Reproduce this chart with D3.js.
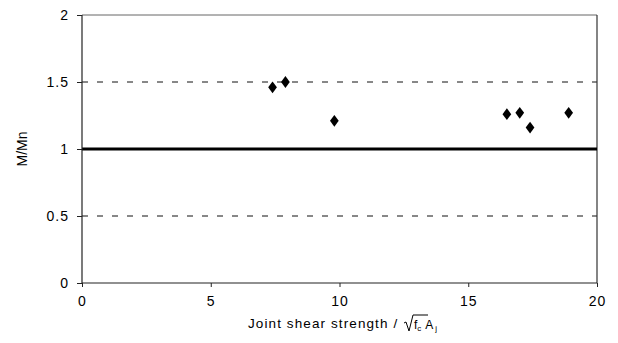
<!DOCTYPE html>
<html>
<head>
<meta charset="utf-8">
<script src="https://cdn.jsdelivr.net/npm/d3@7"></script>
<style>
  body { margin: 0; background: #fff; }
  text { font-family: "Liberation Sans", Arial, sans-serif; fill: #000; }
</style>
</head>
<body>
<div id="chart"></div>
<script>
// joint shear strength (x) vs M/Mn (y)
var shear = [7.4, 7.9, 9.8, 16.5, 17.0, 17.4, 18.9];
var ratio = [1.46, 1.50, 1.21, 1.26, 1.27, 1.16, 1.27];
var xTicks = [0, 5, 10, 15, 20];
var yTicks = [0, 0.5, 1, 1.5, 2];
var dashedLevels = [0.5, 1.5];

var W = 618, H = 343;
var margin = { top: 15, right: 21, bottom: 60, left: 82 };

var svg = d3.select("#chart").append("svg")
    .attr("width", W)
    .attr("height", H);

var x = d3.scaleLinear().domain([0, 20]).range([margin.left, W - margin.right]);
var y = d3.scaleLinear().domain([0, 2]).range([H - margin.bottom, margin.top]);

// dashed reference lines
svg.selectAll("line.dash")
    .data(dashedLevels)
    .enter().append("line")
    .attr("class", "dash")
    .attr("x1", x(0)).attr("x2", x(20))
    .attr("y1", function (d) { return y(d); })
    .attr("y2", function (d) { return y(d); })
    .attr("stroke", "#111")
    .attr("stroke-width", 1)
    .attr("stroke-dasharray", "6,9");

// top border
svg.append("line")
    .attr("x1", x(0)).attr("x2", x(20))
    .attr("y1", y(2)).attr("y2", y(2))
    .attr("stroke", "#666")
    .attr("stroke-width", 1);

// right border
svg.append("line")
    .attr("x1", x(20)).attr("x2", x(20))
    .attr("y1", y(2)).attr("y2", y(0))
    .attr("stroke", "#333")
    .attr("stroke-width", 1.2);

// M/Mn = 1 line
svg.append("line")
    .attr("x1", x(0)).attr("x2", x(20))
    .attr("y1", y(1)).attr("y2", y(1))
    .attr("stroke", "#000")
    .attr("stroke-width", 3);

// axes
var xAxis = svg.append("g")
    .attr("transform", "translate(0," + y(0) + ")")
    .call(d3.axisBottom(x).tickValues(xTicks).tickSize(4).tickPadding(9).tickFormat(d3.format("d")));
var yAxis = svg.append("g")
    .attr("transform", "translate(" + x(0) + ",0)")
    .call(d3.axisLeft(y).tickValues(yTicks).tickSize(5).tickPadding(8).tickFormat(function (d) { return d; }));

[xAxis, yAxis].forEach(function (g) {
    g.select(".domain").attr("stroke", "#222").attr("stroke-width", 1.2);
    g.selectAll(".tick line").attr("stroke", "#222");
    g.selectAll(".tick text")
        .attr("font-size", 14)
        .attr("letter-spacing", 1)
        .attr("font-family", "Liberation Sans, Arial, sans-serif");
});
xAxis.select(".domain").attr("d", "M" + x(0) + ",0H" + x(20));
yAxis.select(".domain").attr("d", "M0," + y(0) + "V" + y(2));

// points
svg.selectAll("path.pt")
    .data(shear)
    .enter().append("path")
    .attr("class", "pt")
    .attr("d", d3.symbol().type(d3.symbolDiamond).size(50))
    .attr("transform", function (d, i) {
        return "translate(" + x(d) + "," + y(ratio[i]) + ") scale(1.15,0.9)";
    })
    .attr("fill", "#000");

// axis titles
svg.append("text")
    .attr("transform", "translate(27," + y(1) + ") rotate(-90)")
    .attr("text-anchor", "middle")
    .attr("font-size", 14)
    .text("M/Mn");

svg.append("text")
    .attr("x", 248)
    .attr("y", 328)
    .attr("font-size", 13.5)
    .attr("letter-spacing", 1.1)
    .text("Joint shear strength /");

// sqrt(f'c) Aj
var sq = svg.append("g").attr("transform", "translate(404,329)");
sq.append("path")
    .attr("d", "M0,-6 L2,-7 L5,2 L9,-14 L24,-14")
    .attr("fill", "none")
    .attr("stroke", "#000")
    .attr("stroke-width", 1);
var sqt = sq.append("text").attr("x", 10).attr("y", 0).attr("font-size", 12).attr("font-family", "Liberation Serif, serif");
sqt.append("tspan").text("f");
sqt.append("tspan").attr("font-size", 8).attr("dy", 2).text("c");
sqt.append("tspan").attr("dy", -2).attr("dx", 4).text("A");
sqt.append("tspan").attr("font-size", 8).attr("dy", 2).attr("dx", 2).text("j");
</script>
</body>
</html>
